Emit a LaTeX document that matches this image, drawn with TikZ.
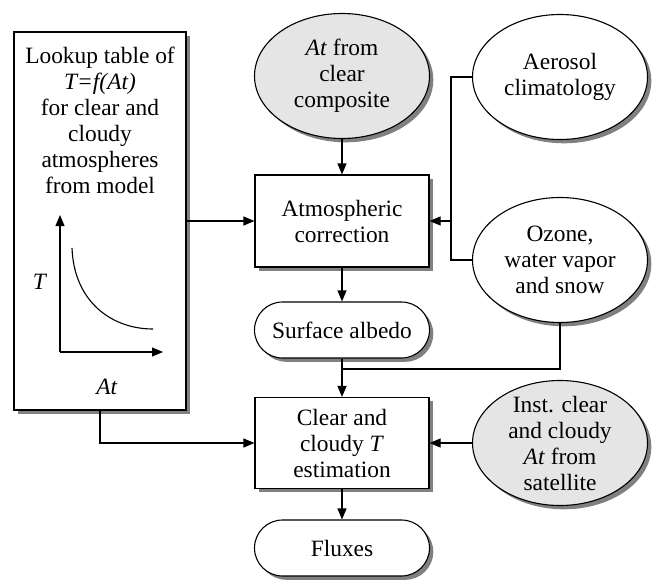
\documentclass[tikz,border=0pt]{standalone}
\usepackage{fontspec}
\setmainfont{Liberation Serif}
\usetikzlibrary{shapes.geometric,shapes.misc,shadows,arrows.meta}
\begin{document}
\begin{tikzpicture}[x=1pt,y=-1pt,
  font=\fontsize{23.4}{26}\selectfont,
  line width=1.1pt,
  shad/.style={drop shadow={shadow xshift=3.8pt,shadow yshift=-3.8pt,fill=black!50,opacity=1}},
  boxnode/.style={draw,rectangle,fill=white,shad,minimum width=174pt,minimum height=92pt,align=center,inner sep=0pt},
  ell/.style={draw,ellipse,shad,minimum width=175pt,minimum height=125pt,inner sep=0pt},
  grayell/.style={ell,fill=gray!20},
  whiteell/.style={ell,fill=white},
  txt/.style={align=center,inner sep=0pt},
  pill/.style={draw,rounded rectangle,fill=white,shad,minimum width=175pt,minimum height=56pt,inner sep=0pt},
  arr/.style={-{Triangle[length=11pt,width=9pt]}}]
\useasboundingbox (0,0) rectangle (652,580);

% left lookup box
\node[draw,rectangle,fill=white,shad,minimum width=172pt,minimum height=378pt,inner sep=0pt] (lbox) at (100,221) {};
\node[txt] (ltext) at (100,120) {Lookup table of\\\textit{T=f(At)}\\for clear and\\cloudy\\atmospheres\\from model};
\coordinate (O) at (60,352);
\coordinate (Ty) at (60,215);
\coordinate (Tx) at (163,352);
\draw[arr] (O) -- (Ty);
\draw[arr] (O) -- (Tx);
\coordinate (c0) at (72,248);
\coordinate (c1) at (74,302);
\coordinate (c2) at (112,329);
\coordinate (c3) at (153,329);
\draw (c0) .. controls (c1) and (c2) .. (c3);
\node[txt] (Tlab) at (40,282) {\textit{T}};
\node[txt] (Atlab) at (107,387) {\textit{At}};

% ellipses
\node[grayell] (comp) at (342,76) {};
\node[txt] (comptext) at (comp) {\textit{At} from\\clear\\composite};
\node[whiteell] (aero) at (560,77) {};
\node[txt] (aerotext) at (aero) {Aerosol\\climatology};
\node[whiteell] (ozone) at (560,260) {};
\node[txt] (ozonetext) at (ozone) {Ozone,\\water vapor\\and snow};
\node[grayell] (inst) at (560,443) {};
\node[txt] (insttext) at (inst) {Inst. clear\\and cloudy\\\textit{At} from\\satellite};

% process boxes
\node[boxnode] (atm) at (342,221) {Atmospheric\\correction};
\node[pill] (surf) at (342,330) {Surface albedo};
\node[boxnode,minimum height=91pt] (clear) at (342,443) {Clear and\\cloudy \textit{T}\\estimation};
\node[pill] (flux) at (342,548) {Fluxes};

% connectors
\draw[arr] (comp.south) -- (atm.north);
\draw[arr] (lbox.east) -- (atm.west);
\coordinate (jx) at (451,221);
\draw (aero.west) -| (jx);
\draw (ozone.west) -| (jx);
\draw[arr] (jx) -- (atm.east);
\draw[arr] (atm.south) -- (surf.north);
\coordinate (jn) at (342,369);
\draw (ozone.south) |- (jn);
\draw[arr] (surf.south) -- (clear.north);
\draw[arr] (lbox.south) |- (clear.west);
\draw[arr] (inst.west) -- (clear.east);
\draw[arr] (clear.south) -- (flux.north);
\end{tikzpicture}
\end{document}
